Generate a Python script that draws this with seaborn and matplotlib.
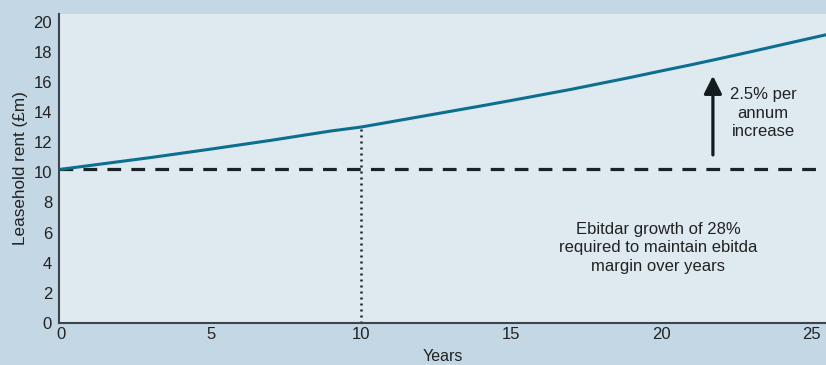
import matplotlib
matplotlib.use("Agg")
import matplotlib.pyplot as plt
import seaborn as sns
import pandas as pd

years = [0, 1, 2, 3, 4, 5, 6, 7, 8, 9, 10, 11, 12, 13, 14, 15, 16, 17, 18, 19,
         20, 21, 22, 23, 24, 25, 25.5]
rent = [10.2, 10.46, 10.72, 10.98, 11.26, 11.54, 11.83, 12.12, 12.43, 12.74,
        13.0, 13.35, 13.7, 14.05, 14.4, 14.76, 15.13, 15.5, 15.9, 16.3,
        16.72, 17.13, 17.56, 18.0, 18.45, 18.9, 19.12]
baseline_rent = 10.2
marker_year = 10
marker_rent = 13.0
x_ticks = [0, 5, 10, 15, 20, 25]
y_ticks = [0, 2, 4, 6, 8, 10, 12, 14, 16, 18, 20]

df = pd.DataFrame({"Years": years, "Rent": rent})

sns.set_theme(style="white")
plt.rcParams["font.family"] = ["Liberation Sans", "DejaVu Sans"]

fig_bg = "#c4d7e4"
ax_bg = "#dee9f0"
text_c = "#222222"

fig = plt.figure(figsize=(8.26, 3.65), dpi=100, facecolor=fig_bg)
ax = fig.add_axes([59 / 826, 1 - 323 / 365, (826 - 59) / 826, (323 - 14) / 365])
ax.set_facecolor(ax_bg)

sns.lineplot(data=df, x="Years", y="Rent", ax=ax, color="#0d6f90", lw=2.2)
ax.axhline(baseline_rent, color="#1b2226", lw=2.3, ls=(0, (4.3, 3.2)), zorder=1)
ax.plot([marker_year, marker_year], [0, marker_rent], color="#1b2226", lw=1.8,
        ls=(0, (0.8, 1.6)), zorder=1)

ax.annotate("", xy=(21.73, 16.4), xytext=(21.73, 11.15),
            arrowprops=dict(arrowstyle="-|>,head_width=0.45,head_length=0.9",
                            color="#141a1d", lw=2.3, shrinkA=0, shrinkB=0,
                            mutation_scale=12))
ax.text(23.4, 13.93, "2.5% per\nannum\nincrease", ha="center", va="center",
        fontsize=12, color=text_c, linespacing=1.27)
ax.text(19.9, 4.98, "Ebitdar growth of 28%\nrequired to maintain ebitda\nmargin over years",
        ha="center", va="center", fontsize=12, color=text_c, linespacing=1.27)

ax.set_xlim(-0.07, 25.5)
ax.set_ylim(0, 20.5)
ax.set_xticks(x_ticks)
ax.set_yticks(y_ticks)
ax.tick_params(length=0, labelsize=12, colors=text_c)
ax.tick_params(axis="y", pad=5)
ax.tick_params(axis="x", pad=3)
ax.set_xlabel("Years", fontsize=11.5, color=text_c, labelpad=5)
ax.set_ylabel("Leasehold rent (£m)", fontsize=12.3, color=text_c, labelpad=4)

for s in ["top", "right"]:
    ax.spines[s].set_visible(False)
for s in ["left", "bottom"]:
    ax.spines[s].set_color("#3c454b")
    ax.spines[s].set_linewidth(1.5)

fig.savefig("out.png", dpi=100, facecolor=fig_bg)
